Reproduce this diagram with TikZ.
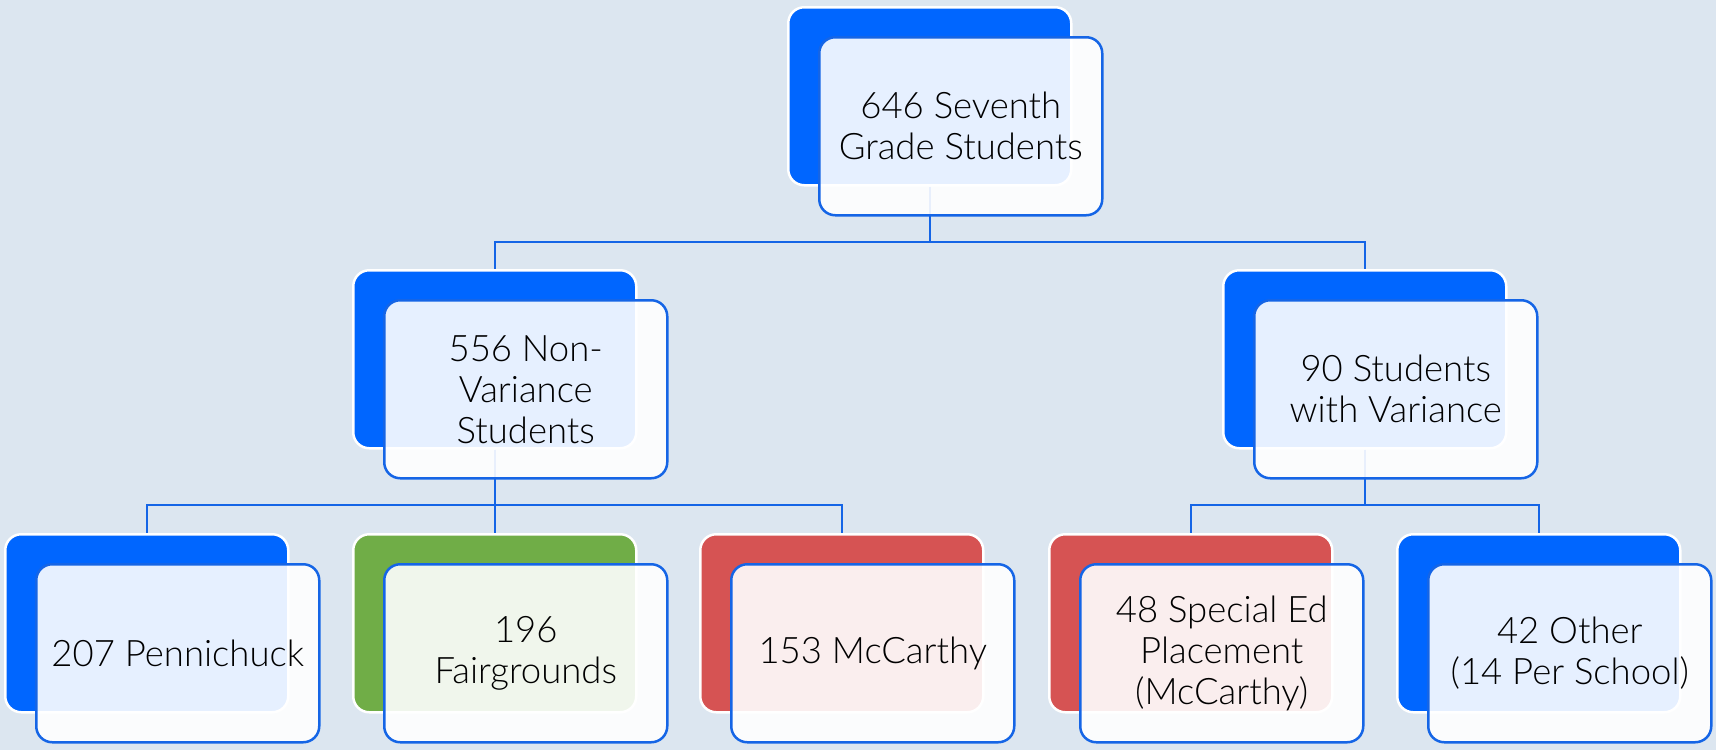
\documentclass[tikz,border=0pt]{standalone}
\usepackage{fontspec}
\IfFontExistsTF{Lato Light}{\setmainfont{Lato Light}}{\setmainfont{Lato}}
\definecolor{bg}{RGB}{220,230,240}
\definecolor{bblue}{RGB}{0,102,255}
\definecolor{bgreen}{RGB}{112,173,71}
\definecolor{bred}{RGB}{214,83,83}
\definecolor{lineblue}{RGB}{21,101,230}
\begin{document}
\begin{tikzpicture}[x=1pt,y=-1pt,
  backbox/.style={rounded corners=16pt, draw=white, line width=2.5pt,
    minimum width=283pt, minimum height=178pt, anchor=north west, inner sep=0pt},
  frontbox/.style={rounded corners=16pt, draw=lineblue, line width=2.5pt,
    fill=white, fill opacity=0.9, text opacity=1, text=black,
    minimum width=283pt, minimum height=178pt, anchor=north west,
    inner sep=0pt, align=center, font=\fontsize{36.5}{41}\selectfont},
  conn/.style={draw=lineblue, line width=2.5pt}]
\useasboundingbox (0,0) rectangle (1716,750);
\fill[bg] (0,0) rectangle (1716,750);
\begin{scope}[shift={(-2,-2)}]
% back boxes
\node[backbox, fill=bblue]  (b0) at (789,8) {};
\node[backbox, fill=bblue]  (b1) at (354,271) {};
\node[backbox, fill=bblue]  (b2) at (1224,271) {};
\node[backbox, fill=bblue]  (b3) at (6,535) {};
\node[backbox, fill=bgreen] (b4) at (354,535) {};
\node[backbox, fill=bred]   (b5) at (701,535) {};
\node[backbox, fill=bred]   (b6) at (1050,535) {};
\node[backbox, fill=bblue]  (b7) at (1398,535) {};
% connectors
\coordinate (j0) at (0,244);
\coordinate (j1) at (0,507);
\draw[conn] (b0.south) -- (b0.south |- j0) -| (b1.north);
\draw[conn] (b0.south |- j0) -| (b2.north);
\draw[conn] (b1.south) -- (b1.south |- j1) -| (b3.north);
\draw[conn] (b1.south |- j1) -| (b5.north);
\draw[conn] (b1.south) -- (b4.north);
\draw[conn] (b2.south) -- (b2.south |- j1) -| (b6.north);
\draw[conn] (b2.south |- j1) -| (b7.north);
% front boxes
\node[frontbox] (f0) at (820,38) {646 Seventh\\Grade Students};
\node[frontbox] (f1) at (385,301) {556 Non-\\Variance\\Students};
\node[frontbox] (f2) at (1255,301) {90 Students\\with Variance};
\node[frontbox] (f3) at (37,565) {207 Pennichuck};
\node[frontbox] (f4) at (385,565) {196\\Fairgrounds};
\node[frontbox] (f5) at (732,565) {153 McCarthy};
\node[frontbox] (f6) at (1081,565) {48 Special Ed\\Placement\\(McCarthy)};
\node[frontbox] (f7) at (1429,565) {42 Other\\(14 Per School)};
\end{scope}
\end{tikzpicture}
\end{document}
